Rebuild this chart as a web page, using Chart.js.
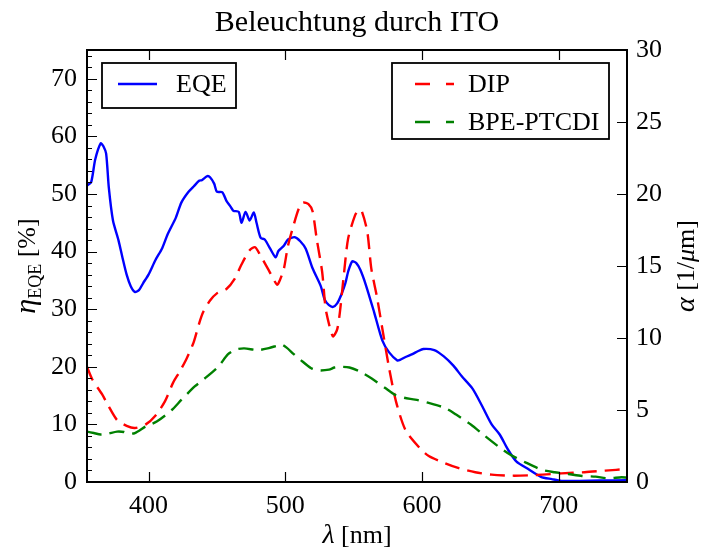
<!DOCTYPE html>
<html>
<head>
<meta charset="utf-8">
<script src="https://cdn.jsdelivr.net/npm/chart.js@4.4.0/dist/chart.umd.min.js"></script>
<style>
  html, body { margin: 0; padding: 0; background: #fff; }
  canvas { display: block; }
</style>
</head>
<body>
<canvas id="chart" width="702" height="549"></canvas>
<script>
// EQE (left axis, %)
const eqeNm = [355, 358, 361, 365, 367, 369, 371, 374, 378, 381, 384, 387, 390, 393, 396, 400, 405, 410, 414, 420, 424, 429, 433, 437, 439, 443, 445, 448, 450, 454, 457, 460, 462, 466, 468, 471, 474, 477, 479, 482, 485, 489, 493, 495, 499, 502, 507, 511, 515, 520, 526, 529, 532, 535, 538, 541, 544, 546, 549, 552, 555, 559, 565, 571, 576, 582, 584, 588, 593, 597, 601, 609, 616, 623, 629, 637, 644, 651, 657, 663, 669, 678, 687, 695, 702, 715, 730, 750];
const eqe = [51.5, 52, 56, 58.8, 58.3, 57, 51, 45.4, 42, 38.9, 36, 34, 33.0, 33.3, 34.5, 36, 38.5, 40.6, 43, 45.9, 48.5, 50.3, 51.3, 52.3, 52.4, 53.1, 52.9, 51.8, 50.4, 50.3, 48.8, 47.8, 47.1, 46.9, 45, 46.9, 45.4, 46.8, 45, 42.4, 42.1, 40.5, 39.0, 40.1, 41, 42.1, 42.5, 41.8, 40.5, 37.1, 34, 31.6, 30.7, 30.4, 31, 32.5, 34.5, 36.5, 38.3, 38, 36.8, 34.2, 29.5, 24.6, 22.5, 21.1, 21.2, 21.7, 22.2, 22.7, 23.1, 22.9, 21.8, 20.2, 18.4, 16.2, 13.2, 10, 8.2, 5.6, 3.6, 2.2, 0.9, 0.5, 0.2, 0.2, 0.25, 0.3];

// absorption DIP (right axis, 1/um)
const dipNm = [355, 359, 366, 370, 377, 384, 390, 398, 405, 412, 418, 423, 428, 433, 437, 440, 445, 450, 457, 463, 468, 474, 478, 482, 488, 494, 496, 499, 502, 506, 510, 513, 517, 520, 523, 527, 529, 530, 533, 535, 538, 540, 543, 546, 551, 554, 556, 560, 563, 567, 572, 576, 581, 588, 598, 605, 617, 627, 639, 651, 666, 678, 688, 702, 719, 734, 750];
const dip = [8.0, 7.1, 6.1, 5.4, 4.3, 3.9, 3.75, 4.0, 4.6, 5.6, 6.9, 7.7, 8.6, 9.7, 11, 11.8, 12.6, 13.1, 13.4, 14.1, 15.1, 16.1, 16.3, 15.7, 14.7, 13.7, 14.0, 14.8, 16.4, 17.8, 19.0, 19.4, 19.3, 18.8, 16.9, 14.6, 12.5, 11.8, 10.6, 10.1, 10.6, 11.8, 14.5, 16.9, 18.5, 18.9, 18.8, 17.4, 14.8, 12.9, 10.1, 7.9, 5.6, 3.6, 2.4, 1.8, 1.3, 0.96, 0.68, 0.51, 0.44, 0.46, 0.51, 0.6, 0.68, 0.79, 0.9];

// absorption BPE-PTCDI (right axis, 1/um)
const bpeNm = [355, 360, 365, 370, 377, 382, 385, 390, 398, 406, 417, 424, 434, 440, 451, 458, 464, 470, 480, 488, 493, 497, 501, 506, 511, 519, 525, 532, 536, 541, 547, 554, 563, 574, 580, 587, 595, 605, 617, 625, 636, 645, 656, 665, 676, 688, 697, 707, 717, 727, 736, 746, 750];
const bpe = [3.5, 3.4, 3.3, 3.35, 3.5, 3.47, 3.35, 3.4, 3.86, 4.2, 5.0, 5.7, 6.65, 7.1, 8.0, 8.86, 9.2, 9.28, 9.16, 9.3, 9.44, 9.56, 9.33, 8.9, 8.5, 7.9, 7.75, 7.8, 7.95, 8.0, 7.95, 7.7, 7.2, 6.47, 6.07, 5.85, 5.72, 5.49, 5.14, 4.68, 3.98, 3.28, 2.46, 1.88, 1.35, 0.84, 0.68, 0.56, 0.42, 0.37, 0.26, 0.33, 0.3];

const xTicks = [400, 500, 600, 700];
const leftTicks = [0, 10, 20, 30, 40, 50, 60, 70];
const leftMinor = [];
for (let v = 2; v < 75; v += 2) if (v % 10) leftMinor.push(v);
const rightTicks = [0, 5, 10, 15, 20, 25, 30];

const FONT = '"Liberation Serif", "DejaVu Serif", serif';
Chart.defaults.font.family = FONT;
Chart.defaults.font.size = 26;
Chart.defaults.color = '#000';

const toPts = (xs, ys) => xs.map((x, i) => ({ x: x, y: ys[i] }));

function drawParts(ctx, parts, cx, cy, rot, base) {
  ctx.save();
  let w = 0;
  parts.forEach(p => { ctx.font = p[1]; w += ctx.measureText(p[0]).width; });
  ctx.translate(cx, cy);
  ctx.rotate(rot);
  ctx.textAlign = 'left';
  ctx.textBaseline = 'alphabetic';
  let x = -w / 2;
  parts.forEach(p => {
    ctx.font = p[1];
    ctx.fillText(p[0], x, base + p[2]);
    x += ctx.measureText(p[0]).width;
  });
  ctx.restore();
}

// frame, inward ticks, legends and all titles
const decor = {
  id: 'decor',
  afterDatasetsDraw(chart) {
    const ctx = chart.ctx;
    const a = chart.chartArea;
    const sx = chart.scales.x, sy = chart.scales.y, sr = chart.scales.y1;
    ctx.save();
    ctx.strokeStyle = '#000';
    ctx.lineWidth = 1.2;
    ctx.beginPath();
    xTicks.forEach(v => {
      const px = Math.round(sx.getPixelForValue(v)) + 0.5;
      ctx.moveTo(px, a.bottom); ctx.lineTo(px, a.bottom - 10);
      ctx.moveTo(px, a.top); ctx.lineTo(px, a.top + 10);
    });
    leftTicks.forEach(v => {
      const py = Math.round(sy.getPixelForValue(v)) + 0.5;
      ctx.moveTo(a.left, py); ctx.lineTo(a.left + 10, py);
    });
    leftMinor.forEach(v => {
      const py = Math.round(sy.getPixelForValue(v)) + 0.5;
      ctx.moveTo(a.left, py); ctx.lineTo(a.left + 5, py);
    });
    rightTicks.forEach(v => {
      const py = Math.round(sr.getPixelForValue(v)) + 0.5;
      ctx.moveTo(a.right, py); ctx.lineTo(a.right - 10, py);
    });
    ctx.stroke();

    ctx.lineWidth = 2;
    ctx.strokeRect(a.left, a.top, a.right - a.left, a.bottom - a.top);

    // legends
    const legendLine = (x, y, color, dash) => {
      ctx.save();
      ctx.strokeStyle = color;
      ctx.lineWidth = 2.4;
      ctx.setLineDash(dash);
      ctx.beginPath();
      ctx.moveTo(x, y); ctx.lineTo(x + 39, y);
      ctx.stroke();
      ctx.restore();
    };
    ctx.fillStyle = '#fff';
    ctx.lineWidth = 1.8;
    ctx.fillRect(a.left + 15, a.top + 13, 134, 45);
    ctx.strokeRect(a.left + 15, a.top + 13, 134, 45);
    ctx.fillRect(a.left + 305, a.top + 13, 217, 76);
    ctx.strokeRect(a.left + 305, a.top + 13, 217, 76);
    legendLine(a.left + 31, a.top + 34, '#0000ff', []);
    legendLine(a.left + 328, a.top + 34, '#ff0000', [15, 16]);
    legendLine(a.left + 328, a.top + 72, '#008000', [15, 16]);
    ctx.fillStyle = '#000';
    ctx.font = '26px ' + FONT;
    ctx.textBaseline = 'middle';
    ctx.textAlign = 'left';
    ctx.fillText('EQE', a.left + 89, a.top + 35);
    ctx.fillText('DIP', a.left + 381, a.top + 35);
    ctx.fillText('BPE-PTCDI', a.left + 381, a.top + 73);

    // title
    ctx.textAlign = 'center';
    ctx.textBaseline = 'alphabetic';
    ctx.font = '30px ' + FONT;
    ctx.fillText('Beleuchtung durch ITO', (a.left + a.right) / 2, 31);

    // x label
    const xl = [['λ', 'italic 28px ' + FONT, 0], [' [nm]', '26px ' + FONT, 0]];
    drawParts(ctx, xl, (a.left + a.right) / 2, 543, 0, 0);

    // left label
    const yl = [['η', 'italic 30px ' + FONT, 0], ['EQE', '18px ' + FONT, 6], [' [%]', '26px ' + FONT, 0]];
    drawParts(ctx, yl, 27, (a.top + a.bottom) / 2, -Math.PI / 2, 8);

    // right label
    const rl = [['α', 'italic 28px ' + FONT, 0], [' [1/', '26px ' + FONT, 0], ['μ', 'italic 26px ' + FONT, 0], ['m]', '26px ' + FONT, 0]];
    drawParts(ctx, rl, 686, (a.top + a.bottom) / 2, -Math.PI / 2, 8);
    ctx.restore();
  }
};

new Chart(document.getElementById('chart'), {
  type: 'line',
  data: {
    datasets: [{
      label: 'EQE',
      data: toPts(eqeNm, eqe),
      yAxisID: 'y',
      borderColor: '#0000ff',
      borderWidth: 2.4,
      order: 3
    }, {
      label: 'DIP',
      data: toPts(dipNm, dip),
      yAxisID: 'y1',
      borderColor: '#ff0000',
      borderWidth: 2.4,
      borderDash: [15, 8],
      order: 2
    }, {
      label: 'BPE-PTCDI',
      data: toPts(bpeNm, bpe),
      yAxisID: 'y1',
      borderColor: '#008000',
      borderWidth: 2.4,
      borderDash: [15, 8],
      order: 1
    }]
  },
  options: {
    responsive: false,
    animation: false,
    devicePixelRatio: 1,
    layout: { padding: { top: 50, left: 0, right: 0, bottom: 0 } },
    elements: { point: { radius: 0 }, line: { tension: 0.25, fill: false } },
    plugins: { legend: { display: false }, title: { display: false }, tooltip: { enabled: false } },
    scales: {
      x: {
        type: 'linear',
        min: 355,
        max: 750,
        grid: { display: false, drawTicks: false },
        border: { display: false },
        afterBuildTicks: s => { s.ticks = xTicks.map(v => ({ value: v })); },
        afterFit: s => { s.height = 67; },
        ticks: { padding: 9 }
      },
      y: {
        position: 'left',
        min: 0,
        max: 75,
        grid: { display: false, drawTicks: false },
        border: { display: false },
        afterBuildTicks: s => { s.ticks = leftTicks.map(v => ({ value: v })); },
        afterFit: s => { s.width = 87; },
        ticks: { padding: 10 }
      },
      y1: {
        position: 'right',
        min: 0,
        max: 30,
        grid: { display: false, drawTicks: false },
        border: { display: false },
        afterBuildTicks: s => { s.ticks = rightTicks.map(v => ({ value: v })); },
        afterFit: s => { s.width = 75; },
        ticks: { padding: 9 }
      }
    }
  },
  plugins: [decor]
});
</script>
</body>
</html>
